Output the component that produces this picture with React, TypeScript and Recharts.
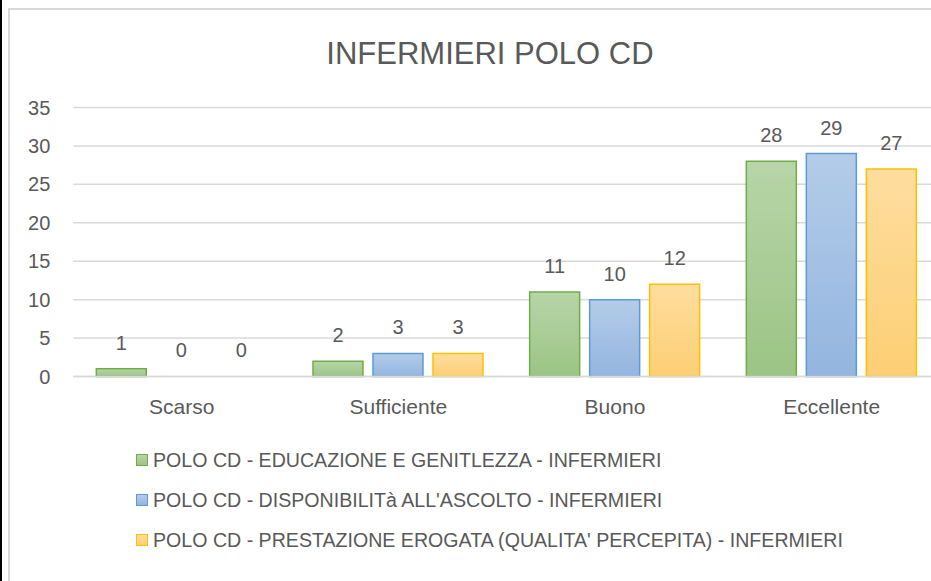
import React from "react";
import { BarChart, Bar, XAxis, YAxis, CartesianGrid, Legend, LabelList, Rectangle } from "recharts";

const categories = ["Scarso", "Sufficiente", "Buono", "Eccellente"];
const educazione = [1, 2, 11, 28];
const disponibilita = [0, 3, 10, 29];
const prestazione = [0, 3, 12, 27];
const yTicks = [0, 5, 10, 15, 20, 25, 30, 35];

const seriesNames = [
  "POLO CD - EDUCAZIONE E GENITLEZZA - INFERMIERI",
  "POLO CD - DISPONIBILITà ALL'ASCOLTO - INFERMIERI",
  "POLO CD - PRESTAZIONE EROGATA (QUALITA' PERCEPITA) - INFERMIERI",
];
const seriesKeys = ["edu", "disp", "prest"];
const seriesColors = [
  { stroke: "#70ad47", top: "#b7d5a7", bottom: "#9cc486" },
  { stroke: "#5b9bd5", top: "#b4cce9", bottom: "#93b5df" },
  { stroke: "#ffc000", top: "#fedd9e", bottom: "#fdcf75" },
];

const data = categories.map((c, i) => ({
  name: c,
  edu: educazione[i],
  disp: disponibilita[i],
  prest: prestazione[i],
}));

const FONT = "'Liberation Sans', Arial, sans-serif";
const TEXT = "#595959";

const LegendContent = () => (
  <div style={{ fontFamily: FONT, color: TEXT, fontSize: 19.6 }}>
    {seriesNames.map((n, i) => (
      <div key={n} style={{ display: "flex", alignItems: "center", height: 40 }}>
        <div
          style={{
            width: 10,
            height: 10,
            border: `1px solid ${seriesColors[i].stroke}`,
            background: `linear-gradient(${seriesColors[i].top}, ${seriesColors[i].bottom})`,
            marginRight: 5,
          }}
        />
        <span style={{ whiteSpace: "nowrap" }}>{n}</span>
      </div>
    ))}
  </div>
);

const BarShape = (props: any) => {
  if (!props.height || props.height < 0.5) return <g />;
  return <Rectangle {...props} />;
};

export default function App() {
  return (
    <div
      style={{
        position: "absolute",
        left: 0,
        top: 0,
        width: 931,
        height: 581,
        overflow: "hidden",
        background: "#fff",
      }}
    >
      <div style={{ position: "absolute", left: 0, top: 0, width: 2, height: 581, background: "#000" }} />
      <div
        style={{
          position: "absolute",
          left: 8,
          top: 8,
          width: 960,
          height: 600,
          borderTop: "2px solid #d9d9d9",
          borderLeft: "2px solid #d9d9d9",
        }}
      />
      <div
        style={{
          position: "absolute",
          left: 290,
          width: 400,
          top: 34,
          textAlign: "center",
          fontFamily: FONT,
          fontSize: 31,
          color: TEXT,
          lineHeight: "40px",
          whiteSpace: "nowrap",
        }}
      >
        INFERMIERI POLO CD
      </div>
      <div style={{ position: "absolute", left: 0, top: 0 }}>
        <BarChart
          width={945}
          height={581}
          data={data}
          margin={{ top: 107.5, right: 5, bottom: 174.5, left: 13.3 }}
          barGap={10}
          barSize={50}
        >
          <defs>
            {seriesColors.map((c, i) => (
              <linearGradient key={i} id={`grad${i}`} x1="0" y1="0" x2="0" y2="1">
                <stop offset="0%" stopColor={c.top} />
                <stop offset="100%" stopColor={c.bottom} />
              </linearGradient>
            ))}
          </defs>
          <CartesianGrid vertical={false} stroke="#d9d9d9" strokeWidth={1.5} />
          <XAxis
            dataKey="name"
            axisLine={{ stroke: "#d9d9d9", strokeWidth: 1.5 }}
            tickLine={false}
            tickSize={6}
            tickMargin={17}
            tick={{ fill: TEXT, fontSize: 21, fontFamily: FONT }}
            height={30}
          />
          <YAxis
            domain={[0, 35]}
            ticks={yTicks}
            axisLine={false}
            tickLine={false}
            tickSize={6}
            tickMargin={17}
            width={60}
            tick={{ fill: TEXT, fontSize: 20, fontFamily: FONT }}
          />
          <Legend
            layout="horizontal"
            verticalAlign="middle"
            align="center"
            wrapperStyle={{ top: 440, left: 136, width: 780, height: 120 }}
            content={<LegendContent />}
          />
          {seriesKeys.map((k, i) => (
            <Bar
              key={k}
              dataKey={k}
              name={seriesNames[i]}
              fill={`url(#grad${i})`}
              stroke={seriesColors[i].stroke}
              strokeWidth={1.5}
              minPointSize={0.01}
              shape={BarShape}
              isAnimationActive={false}
            >
              <LabelList
                dataKey={k}
                position="top"
                offset={19}
                fill={TEXT}
                fontSize={20}
                fontFamily={FONT}
              />
            </Bar>
          ))}
        </BarChart>
      </div>
    </div>
  );
}
